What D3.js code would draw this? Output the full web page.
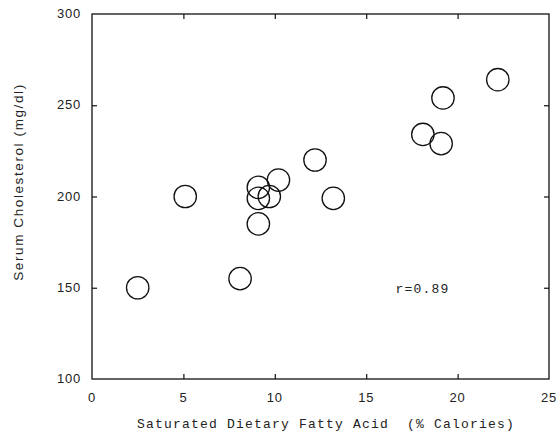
<!DOCTYPE html>
<html><head><meta charset="utf-8">
<script src="https://cdn.jsdelivr.net/npm/d3@7"></script>
<style>body{margin:0;background:#fff}svg{display:block}</style>
</head><body>
<svg id="c" width="556" height="434"></svg>
<script>
const xValues = [2.5, 5.1, 8.1, 9.1, 9.1, 9.1, 9.7, 10.2, 12.2, 13.2, 18.1, 19.1, 19.2, 22.2];
const yValues = [150, 200, 155, 185, 205, 199, 200, 209, 220, 199, 234, 229, 254, 264];
const xTicks = [0, 5, 10, 15, 20, 25];
const yTicks = [100, 150, 200, 250, 300];
const xTitle = "Saturated Dietary Fatty Acid  (% Calories)";
const yTitle = "Serum Cholesterol (mg/dl)";
const note = "r=0.89";

const svg = d3.select("#c");
const L = 92, R = 549, T = 14, B = 379;
const x = d3.scaleLinear().domain([0, 25]).range([L, R]);
const y = d3.scaleLinear().domain([100, 300]).range([B, T]);

// frame
svg.append("rect").attr("x", L).attr("y", T).attr("width", R - L).attr("height", B - T)
  .attr("fill", "none").attr("stroke", "#111").attr("stroke-width", 1.3);

const inner = xTicks.slice(1, -1);
const innerY = yTicks.slice(1, -1);
const tlen = 5;
// axes with inward ticks
const gB = svg.append("g").attr("transform", `translate(0,${B})`)
  .call(d3.axisTop(x).tickValues(inner).tickSize(tlen).tickFormat(""));
const gT = svg.append("g").attr("transform", `translate(0,${T})`)
  .call(d3.axisBottom(x).tickValues(inner).tickSize(tlen).tickFormat(""));
const gL = svg.append("g").attr("transform", `translate(${L},0)`)
  .call(d3.axisRight(y).tickValues(innerY).tickSize(tlen).tickFormat(""));
const gR = svg.append("g").attr("transform", `translate(${R},0)`)
  .call(d3.axisLeft(y).tickValues(innerY).tickSize(tlen).tickFormat(""));
[gB, gT, gL, gR].forEach(g => {
  g.select(".domain").remove();
  g.selectAll("line").attr("stroke", "#111").attr("stroke-width", 1.2);
});

const font = "'Liberation Sans', Arial, sans-serif";
const mono = "'Liberation Mono', 'DejaVu Sans Mono', monospace";
// tick labels
svg.append("g").selectAll("text").data(xTicks).join("text")
  .attr("x", d => x(d)).attr("y", 402).attr("text-anchor", "middle")
  .attr("font-family", font).attr("font-size", 13).attr("letter-spacing", 0.8)
  .attr("fill", "#222").text(d => d);
svg.append("g").selectAll("text").data(yTicks).join("text")
  .attr("x", 81).attr("y", d => y(d) + 4).attr("text-anchor", "end")
  .attr("font-family", font).attr("font-size", 13).attr("letter-spacing", 0.8)
  .attr("fill", "#222").text(d => d);

// titles
svg.append("text").attr("x", 326).attr("y", 428).attr("text-anchor", "middle")
  .attr("font-family", mono)
  .attr("font-size", 13).attr("letter-spacing", 1.2).attr("fill", "#222")
  .style("white-space", "pre").text(xTitle);
svg.append("text").attr("transform", "translate(23,182) rotate(-90)")
  .attr("text-anchor", "middle").attr("font-family", font)
  .attr("font-size", 13.5).attr("letter-spacing", 1.6).attr("fill", "#222").text(yTitle);

// points
svg.append("g").selectAll("circle").data(xValues.map((v, i) => [v, yValues[i]])).join("circle")
  .attr("cx", d => x(d[0])).attr("cy", d => y(d[1])).attr("r", 11.2)
  .attr("fill", "none").attr("stroke", "#111").attr("stroke-width", 1.3);

// annotation
svg.append("text").attr("x", x(16.6)).attr("y", y(147)).attr("font-family", mono)
  .attr("font-size", 13).attr("letter-spacing", 1.2).attr("fill", "#222").text(note);
</script>
</body></html>
